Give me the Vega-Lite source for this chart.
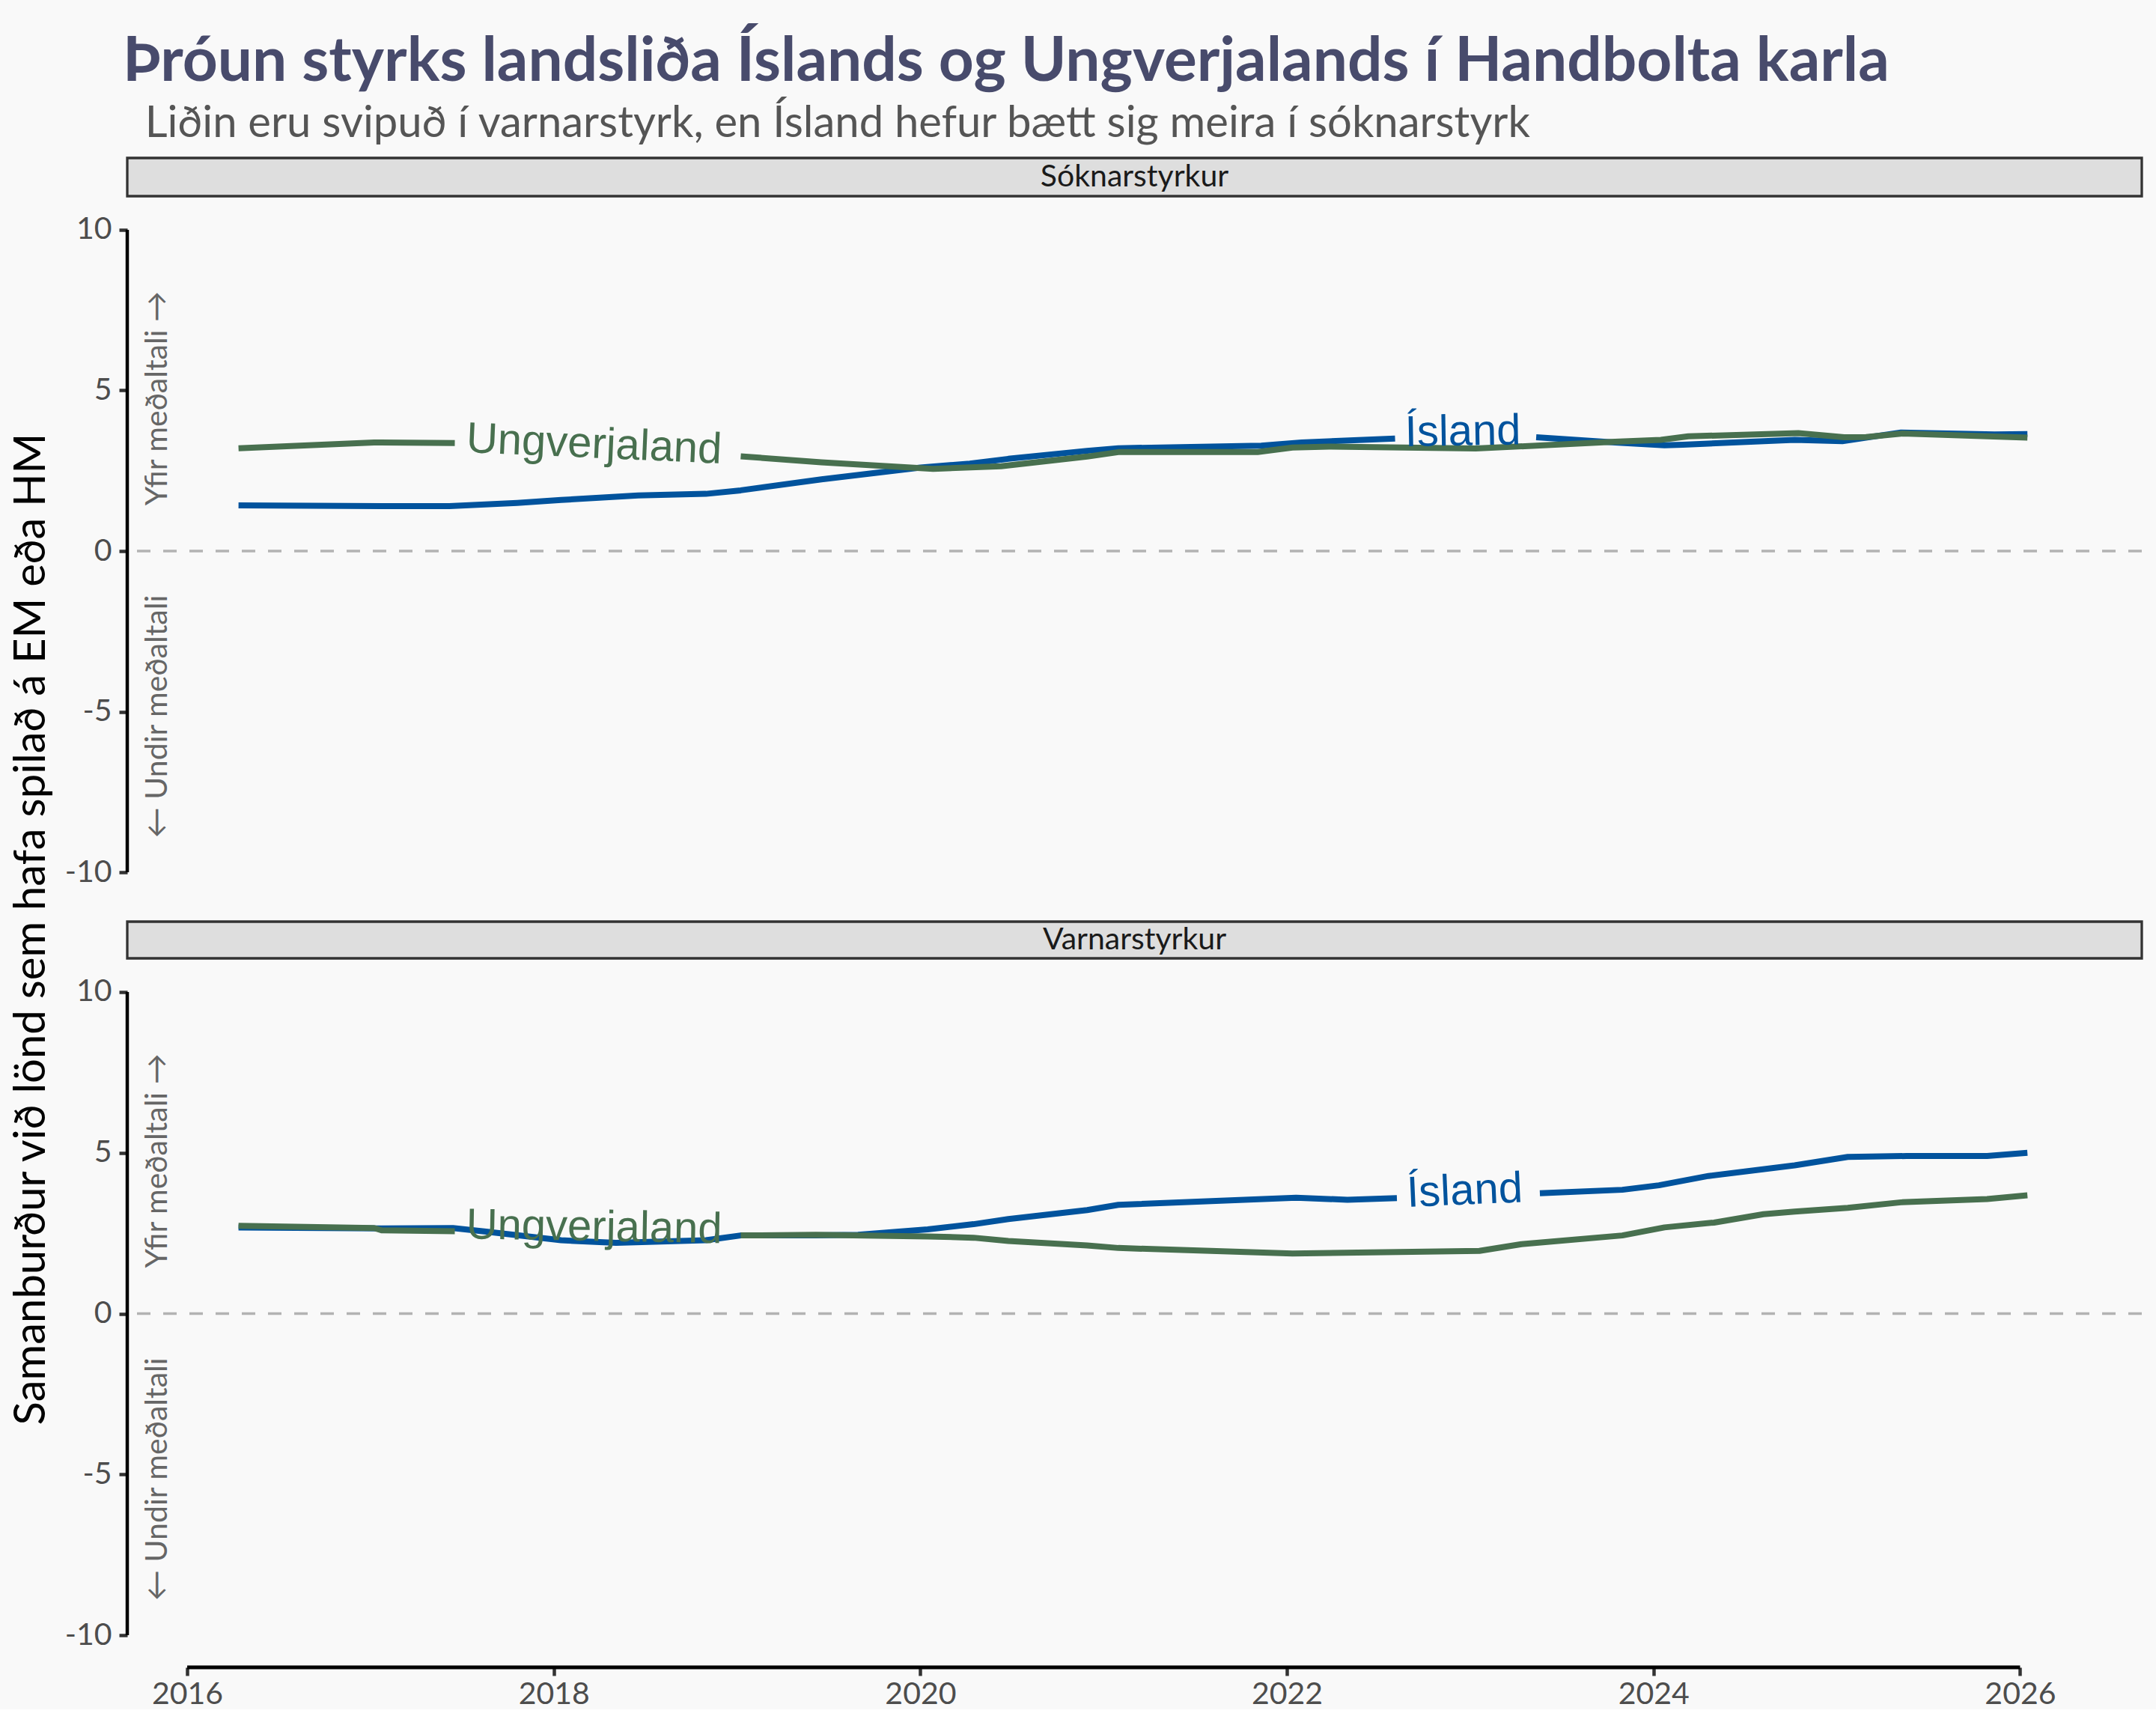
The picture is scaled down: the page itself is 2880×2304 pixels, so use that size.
{
  "$schema": "https://vega.github.io/schema/vega-lite/v6.json",
  "background": "#f9f9f9",
  "padding": {"left": 0, "top": 42, "right": 21, "bottom": 0},
  "title": {
    "text": "Þróun styrks landsliða Íslands og Ungverjalands í Handbolta karla",
    "subtitle": "\u200b\u00a0\u00a0Liðin eru svipuð í varnarstyrk, en Ísland hefur bætt sig meira í sóknarstyrk",
    "anchor": "start", "dx": 164, "offset": 13,
    "font": "Lato", "fontSize": 82, "fontWeight": "bold", "color": "#484b6c",
    "subtitleFont": "Lato", "subtitleFontSize": 58, "subtitleColor": "#555555", "subtitlePadding": 12
  },
  "datasets": {
    "lines": [
      {"panel": "S", "country": "Ísland", "seg": 1, "year": 2016.28, "value": 1.42},
      {"panel": "S", "country": "Ísland", "seg": 1, "year": 2017.06, "value": 1.40},
      {"panel": "S", "country": "Ísland", "seg": 1, "year": 2017.43, "value": 1.40},
      {"panel": "S", "country": "Ísland", "seg": 1, "year": 2017.80, "value": 1.50},
      {"panel": "S", "country": "Ísland", "seg": 1, "year": 2018.04, "value": 1.59},
      {"panel": "S", "country": "Ísland", "seg": 1, "year": 2018.46, "value": 1.73},
      {"panel": "S", "country": "Ísland", "seg": 1, "year": 2018.83, "value": 1.78},
      {"panel": "S", "country": "Ísland", "seg": 1, "year": 2019.02, "value": 1.89},
      {"panel": "S", "country": "Ísland", "seg": 1, "year": 2019.46, "value": 2.23},
      {"panel": "S", "country": "Ísland", "seg": 1, "year": 2020.00, "value": 2.60},
      {"panel": "S", "country": "Ísland", "seg": 1, "year": 2020.27, "value": 2.72},
      {"panel": "S", "country": "Ísland", "seg": 1, "year": 2020.48, "value": 2.87},
      {"panel": "S", "country": "Ísland", "seg": 1, "year": 2020.91, "value": 3.12},
      {"panel": "S", "country": "Ísland", "seg": 1, "year": 2021.08, "value": 3.20},
      {"panel": "S", "country": "Ísland", "seg": 1, "year": 2021.86, "value": 3.28},
      {"panel": "S", "country": "Ísland", "seg": 1, "year": 2022.08, "value": 3.38},
      {"panel": "S", "country": "Ísland", "seg": 1, "year": 2022.59, "value": 3.50},
      {"panel": "S", "country": "Ísland", "seg": 2, "year": 2023.36, "value": 3.54},
      {"panel": "S", "country": "Ísland", "seg": 2, "year": 2023.79, "value": 3.38},
      {"panel": "S", "country": "Ísland", "seg": 2, "year": 2024.06, "value": 3.29},
      {"panel": "S", "country": "Ísland", "seg": 2, "year": 2024.16, "value": 3.31},
      {"panel": "S", "country": "Ísland", "seg": 2, "year": 2024.77, "value": 3.46},
      {"panel": "S", "country": "Ísland", "seg": 2, "year": 2025.03, "value": 3.42},
      {"panel": "S", "country": "Ísland", "seg": 2, "year": 2025.35, "value": 3.69},
      {"panel": "S", "country": "Ísland", "seg": 2, "year": 2025.86, "value": 3.63},
      {"panel": "S", "country": "Ísland", "seg": 2, "year": 2026.04, "value": 3.64},
      {"panel": "S", "country": "Ungverjaland", "seg": 1, "year": 2016.28, "value": 3.20},
      {"panel": "S", "country": "Ungverjaland", "seg": 1, "year": 2017.02, "value": 3.38},
      {"panel": "S", "country": "Ungverjaland", "seg": 1, "year": 2017.46, "value": 3.36},
      {"panel": "S", "country": "Ungverjaland", "seg": 2, "year": 2019.02, "value": 2.95},
      {"panel": "S", "country": "Ungverjaland", "seg": 2, "year": 2019.46, "value": 2.76},
      {"panel": "S", "country": "Ungverjaland", "seg": 2, "year": 2020.07, "value": 2.56},
      {"panel": "S", "country": "Ungverjaland", "seg": 2, "year": 2020.44, "value": 2.64},
      {"panel": "S", "country": "Ungverjaland", "seg": 2, "year": 2020.91, "value": 2.94},
      {"panel": "S", "country": "Ungverjaland", "seg": 2, "year": 2021.08, "value": 3.08},
      {"panel": "S", "country": "Ungverjaland", "seg": 2, "year": 2021.84, "value": 3.08},
      {"panel": "S", "country": "Ungverjaland", "seg": 2, "year": 2022.03, "value": 3.22},
      {"panel": "S", "country": "Ungverjaland", "seg": 2, "year": 2022.23, "value": 3.25},
      {"panel": "S", "country": "Ungverjaland", "seg": 2, "year": 2023.03, "value": 3.19},
      {"panel": "S", "country": "Ungverjaland", "seg": 2, "year": 2023.79, "value": 3.40},
      {"panel": "S", "country": "Ungverjaland", "seg": 2, "year": 2024.04, "value": 3.46},
      {"panel": "S", "country": "Ungverjaland", "seg": 2, "year": 2024.19, "value": 3.57},
      {"panel": "S", "country": "Ungverjaland", "seg": 2, "year": 2024.79, "value": 3.67},
      {"panel": "S", "country": "Ungverjaland", "seg": 2, "year": 2025.04, "value": 3.54},
      {"panel": "S", "country": "Ungverjaland", "seg": 2, "year": 2025.16, "value": 3.55},
      {"panel": "S", "country": "Ungverjaland", "seg": 2, "year": 2025.36, "value": 3.66},
      {"panel": "S", "country": "Ungverjaland", "seg": 2, "year": 2026.04, "value": 3.53},
      {"panel": "V", "country": "Ísland", "seg": 1, "year": 2016.28, "value": 2.68},
      {"panel": "V", "country": "Ísland", "seg": 1, "year": 2017.06, "value": 2.65},
      {"panel": "V", "country": "Ísland", "seg": 1, "year": 2017.45, "value": 2.66},
      {"panel": "V", "country": "Ísland", "seg": 1, "year": 2017.63, "value": 2.55},
      {"panel": "V", "country": "Ísland", "seg": 1, "year": 2018.04, "value": 2.28},
      {"panel": "V", "country": "Ísland", "seg": 1, "year": 2018.34, "value": 2.20},
      {"panel": "V", "country": "Ísland", "seg": 1, "year": 2018.83, "value": 2.28},
      {"panel": "V", "country": "Ísland", "seg": 1, "year": 2019.02, "value": 2.43},
      {"panel": "V", "country": "Ísland", "seg": 1, "year": 2019.43, "value": 2.43},
      {"panel": "V", "country": "Ísland", "seg": 1, "year": 2019.66, "value": 2.45},
      {"panel": "V", "country": "Ísland", "seg": 1, "year": 2020.04, "value": 2.62},
      {"panel": "V", "country": "Ísland", "seg": 1, "year": 2020.29, "value": 2.78},
      {"panel": "V", "country": "Ísland", "seg": 1, "year": 2020.48, "value": 2.94},
      {"panel": "V", "country": "Ísland", "seg": 1, "year": 2020.91, "value": 3.22},
      {"panel": "V", "country": "Ísland", "seg": 1, "year": 2021.08, "value": 3.38},
      {"panel": "V", "country": "Ísland", "seg": 1, "year": 2022.05, "value": 3.60},
      {"panel": "V", "country": "Ísland", "seg": 1, "year": 2022.33, "value": 3.54},
      {"panel": "V", "country": "Ísland", "seg": 1, "year": 2022.60, "value": 3.59},
      {"panel": "V", "country": "Ísland", "seg": 2, "year": 2023.38, "value": 3.74},
      {"panel": "V", "country": "Ísland", "seg": 2, "year": 2023.83, "value": 3.85},
      {"panel": "V", "country": "Ísland", "seg": 2, "year": 2024.03, "value": 3.99},
      {"panel": "V", "country": "Ísland", "seg": 2, "year": 2024.30, "value": 4.28},
      {"panel": "V", "country": "Ísland", "seg": 2, "year": 2024.77, "value": 4.61},
      {"panel": "V", "country": "Ísland", "seg": 2, "year": 2025.06, "value": 4.87},
      {"panel": "V", "country": "Ísland", "seg": 2, "year": 2025.38, "value": 4.90},
      {"panel": "V", "country": "Ísland", "seg": 2, "year": 2025.82, "value": 4.90},
      {"panel": "V", "country": "Ísland", "seg": 2, "year": 2026.04, "value": 5.00},
      {"panel": "V", "country": "Ungverjaland", "seg": 1, "year": 2016.28, "value": 2.73},
      {"panel": "V", "country": "Ungverjaland", "seg": 1, "year": 2017.02, "value": 2.66},
      {"panel": "V", "country": "Ungverjaland", "seg": 1, "year": 2017.06, "value": 2.59},
      {"panel": "V", "country": "Ungverjaland", "seg": 1, "year": 2017.46, "value": 2.56},
      {"panel": "V", "country": "Ungverjaland", "seg": 2, "year": 2019.02, "value": 2.43},
      {"panel": "V", "country": "Ungverjaland", "seg": 2, "year": 2019.43, "value": 2.45},
      {"panel": "V", "country": "Ungverjaland", "seg": 2, "year": 2020.04, "value": 2.40},
      {"panel": "V", "country": "Ungverjaland", "seg": 2, "year": 2020.29, "value": 2.36},
      {"panel": "V", "country": "Ungverjaland", "seg": 2, "year": 2020.48, "value": 2.26},
      {"panel": "V", "country": "Ungverjaland", "seg": 2, "year": 2020.91, "value": 2.12},
      {"panel": "V", "country": "Ungverjaland", "seg": 2, "year": 2021.08, "value": 2.04},
      {"panel": "V", "country": "Ungverjaland", "seg": 2, "year": 2022.03, "value": 1.87},
      {"panel": "V", "country": "Ungverjaland", "seg": 2, "year": 2023.05, "value": 1.95},
      {"panel": "V", "country": "Ungverjaland", "seg": 2, "year": 2023.28, "value": 2.16},
      {"panel": "V", "country": "Ungverjaland", "seg": 2, "year": 2023.83, "value": 2.43},
      {"panel": "V", "country": "Ungverjaland", "seg": 2, "year": 2024.06, "value": 2.68},
      {"panel": "V", "country": "Ungverjaland", "seg": 2, "year": 2024.33, "value": 2.83},
      {"panel": "V", "country": "Ungverjaland", "seg": 2, "year": 2024.60, "value": 3.09},
      {"panel": "V", "country": "Ungverjaland", "seg": 2, "year": 2024.77, "value": 3.17},
      {"panel": "V", "country": "Ungverjaland", "seg": 2, "year": 2025.06, "value": 3.29},
      {"panel": "V", "country": "Ungverjaland", "seg": 2, "year": 2025.35, "value": 3.46},
      {"panel": "V", "country": "Ungverjaland", "seg": 2, "year": 2025.82, "value": 3.56},
      {"panel": "V", "country": "Ungverjaland", "seg": 2, "year": 2026.04, "value": 3.68}
    ],
    "labels": [
      {"panel": "S", "country": "Ísland", "year": 2022.96, "value": 3.69},
      {"panel": "S", "country": "Ungverjaland", "year": 2018.22, "value": 3.30},
      {"panel": "V", "country": "Ísland", "year": 2022.97, "value": 3.79},
      {"panel": "V", "country": "Ungverjaland", "year": 2018.22, "value": 2.66}
    ],
    "notes": [
      {"year": 2015.84, "value": 4.75, "text": "Yfir meðaltali →"},
      {"year": 2015.84, "value": -5.15, "text": "← Undir meðaltali"}
    ]
  },
  "spacing": 0,
  "hconcat": [
    {
      "width": 86, "height": 2060,
      "data": {"values": [{"t": "Samanburður við lönd sem hafa spilað á EM eða HM"}]},
      "mark": {"type": "text", "angle": 270, "font": "Lato", "fontSize": 58, "color": "#000000", "align": "center", "baseline": "middle"},
      "encoding": {"text": {"field": "t"}}
    },
    {
      "spacing": 21,
      "vconcat": [
        {
          "spacing": 0,
          "vconcat": [
            {
              "width": 2691, "height": 51,
              "view": {"fill": "#dedede", "stroke": "#333333", "strokeWidth": 3.3},
              "data": {"values": [{"t": "Sóknarstyrkur"}]},
              "mark": {"type": "text", "font": "Lato", "fontSize": 41, "color": "#1a1a1a", "align": "center", "baseline": "middle"},
              "encoding": {"text": {"field": "t"}}
            },
            {
              "width": 2691, "height": 944,
              "layer": [
                {
                  "data": {"values": [{}]},
                  "mark": {"type": "rule", "color": "#b3b3b3", "strokeWidth": 3.5, "strokeDash": [18, 17]},
                  "encoding": {"y": {"datum": 0, "type": "quantitative", "scale": {"domain": [-11, 11], "nice": false, "zero": false}, "axis": {"values": [-10, -5, 0, 5, 10]}, "title": null}}
                },
                {
                  "data": {"values": [{}]},
                  "mark": {"type": "rule", "color": "#000000", "strokeWidth": 4.5},
                  "encoding": {
                    "x": {"datum": 2015.673, "type": "quantitative", "scale": {"domain": [2015.673, 2026.664], "nice": false, "zero": false}, "axis": null},
                    "y": {"datum": -10, "type": "quantitative", "axis": {"values": [-10, -5, 0, 5, 10]}, "title": null},
                    "y2": {"datum": 10}
                  }
                },
                {
                  "data": {"name": "lines"},
                  "transform": [{"filter": "datum.panel === 'S' && datum.country === 'Ísland'"}],
                  "mark": {"type": "line", "color": "#01539d", "strokeWidth": 8, "strokeJoin": "round"},
                  "encoding": {
                    "x": {"field": "year", "type": "quantitative", "axis": null},
                    "y": {"field": "value", "type": "quantitative", "axis": {"values": [-10, -5, 0, 5, 10]}, "title": null},
                    "detail": {"field": "seg"}
                  }
                },
                {
                  "data": {"name": "lines"},
                  "transform": [{"filter": "datum.panel === 'S' && datum.country === 'Ungverjaland'"}],
                  "mark": {"type": "line", "color": "#48704f", "strokeWidth": 8, "strokeJoin": "round"},
                  "encoding": {
                    "x": {"field": "year", "type": "quantitative", "axis": null},
                    "y": {"field": "value", "type": "quantitative", "axis": {"values": [-10, -5, 0, 5, 10]}, "title": null},
                    "detail": {"field": "seg"}
                  }
                },
                {
                  "data": {"name": "labels"},
                  "transform": [{"filter": "datum.panel === 'S' && datum.country === 'Ísland'"}],
                  "mark": {"type": "text", "font": "Liberation Sans", "fontSize": 58, "color": "#01539d", "angle": -1, "align": "center", "baseline": "middle"},
                  "encoding": {
                    "x": {"field": "year", "type": "quantitative", "axis": null},
                    "y": {"field": "value", "type": "quantitative", "axis": {"values": [-10, -5, 0, 5, 10]}, "title": null},
                    "text": {"field": "country"}
                  }
                },
                {
                  "data": {"name": "labels"},
                  "transform": [{"filter": "datum.panel === 'S' && datum.country === 'Ungverjaland'"}],
                  "mark": {"type": "text", "font": "Liberation Sans", "fontSize": 58, "color": "#48704f", "angle": 2.5, "align": "center", "baseline": "middle"},
                  "encoding": {
                    "x": {"field": "year", "type": "quantitative", "axis": null},
                    "y": {"field": "value", "type": "quantitative", "axis": {"values": [-10, -5, 0, 5, 10]}, "title": null},
                    "text": {"field": "country"}
                  }
                },
                {
                  "data": {"name": "notes"},
                  "mark": {"type": "text", "font": "Lato", "fontSize": 41, "color": "#666666", "angle": 270, "align": "center", "baseline": "middle"},
                  "encoding": {
                    "x": {"field": "year", "type": "quantitative", "axis": null},
                    "y": {"field": "value", "type": "quantitative", "axis": {"values": [-10, -5, 0, 5, 10]}, "title": null},
                    "text": {"field": "text"}
                  }
                }
              ]
            }
          ]
        },
        {
          "spacing": 0,
          "vconcat": [
            {
              "width": 2691, "height": 49,
              "view": {"fill": "#dedede", "stroke": "#333333", "strokeWidth": 3.3},
              "data": {"values": [{"t": "Varnarstyrkur"}]},
              "mark": {"type": "text", "font": "Lato", "fontSize": 41, "color": "#1a1a1a", "align": "center", "baseline": "middle"},
              "encoding": {"text": {"field": "t"}}
            },
            {
              "width": 2691, "height": 945,
              "layer": [
                {
                  "data": {"values": [{}]},
                  "mark": {"type": "rule", "color": "#b3b3b3", "strokeWidth": 3.5, "strokeDash": [18, 17]},
                  "encoding": {"y": {"datum": 0, "type": "quantitative", "scale": {"domain": [-11, 11], "nice": false, "zero": false}, "axis": {"values": [-10, -5, 0, 5, 10]}, "title": null}}
                },
                {
                  "data": {"values": [{}]},
                  "mark": {"type": "rule", "color": "#000000", "strokeWidth": 4.5},
                  "encoding": {
                    "x": {"datum": 2015.673, "type": "quantitative", "scale": {"domain": [2015.673, 2026.664], "nice": false, "zero": false}, "axis": {"values": [2016, 2018, 2020, 2022, 2024, 2026], "format": "d"}, "title": null},
                    "y": {"datum": -10, "type": "quantitative", "axis": {"values": [-10, -5, 0, 5, 10]}, "title": null},
                    "y2": {"datum": 10}
                  }
                },
                {
                  "data": {"values": [{}]},
                  "mark": {"type": "rule", "color": "#000000", "strokeWidth": 5},
                  "encoding": {
                    "x": {"datum": 2016, "type": "quantitative", "axis": {"values": [2016, 2018, 2020, 2022, 2024, 2026], "format": "d"}, "title": null},
                    "x2": {"datum": 2026},
                    "y": {"datum": -11, "type": "quantitative", "axis": {"values": [-10, -5, 0, 5, 10]}, "title": null}
                  }
                },
                {
                  "data": {"name": "lines"},
                  "transform": [{"filter": "datum.panel === 'V' && datum.country === 'Ísland'"}],
                  "mark": {"type": "line", "color": "#01539d", "strokeWidth": 8, "strokeJoin": "round"},
                  "encoding": {
                    "x": {"field": "year", "type": "quantitative", "axis": {"values": [2016, 2018, 2020, 2022, 2024, 2026], "format": "d"}, "title": null},
                    "y": {"field": "value", "type": "quantitative", "axis": {"values": [-10, -5, 0, 5, 10]}, "title": null},
                    "detail": {"field": "seg"}
                  }
                },
                {
                  "data": {"name": "lines"},
                  "transform": [{"filter": "datum.panel === 'V' && datum.country === 'Ungverjaland'"}],
                  "mark": {"type": "line", "color": "#48704f", "strokeWidth": 8, "strokeJoin": "round"},
                  "encoding": {
                    "x": {"field": "year", "type": "quantitative", "axis": {"values": [2016, 2018, 2020, 2022, 2024, 2026], "format": "d"}, "title": null},
                    "y": {"field": "value", "type": "quantitative", "axis": {"values": [-10, -5, 0, 5, 10]}, "title": null},
                    "detail": {"field": "seg"}
                  }
                },
                {
                  "data": {"name": "labels"},
                  "transform": [{"filter": "datum.panel === 'V' && datum.country === 'Ísland'"}],
                  "mark": {"type": "text", "font": "Liberation Sans", "fontSize": 58, "color": "#01539d", "angle": -2.5, "align": "center", "baseline": "middle"},
                  "encoding": {
                    "x": {"field": "year", "type": "quantitative", "axis": {"values": [2016, 2018, 2020, 2022, 2024, 2026], "format": "d"}, "title": null},
                    "y": {"field": "value", "type": "quantitative", "axis": {"values": [-10, -5, 0, 5, 10]}, "title": null},
                    "text": {"field": "country"}
                  }
                },
                {
                  "data": {"name": "labels"},
                  "transform": [{"filter": "datum.panel === 'V' && datum.country === 'Ungverjaland'"}],
                  "mark": {"type": "text", "font": "Liberation Sans", "fontSize": 58, "color": "#48704f", "angle": 1, "align": "center", "baseline": "middle"},
                  "encoding": {
                    "x": {"field": "year", "type": "quantitative", "axis": {"values": [2016, 2018, 2020, 2022, 2024, 2026], "format": "d"}, "title": null},
                    "y": {"field": "value", "type": "quantitative", "axis": {"values": [-10, -5, 0, 5, 10]}, "title": null},
                    "text": {"field": "country"}
                  }
                },
                {
                  "data": {"name": "notes"},
                  "mark": {"type": "text", "font": "Lato", "fontSize": 41, "color": "#666666", "angle": 270, "align": "center", "baseline": "middle"},
                  "encoding": {
                    "x": {"field": "year", "type": "quantitative", "axis": {"values": [2016, 2018, 2020, 2022, 2024, 2026], "format": "d"}, "title": null},
                    "y": {"field": "value", "type": "quantitative", "axis": {"values": [-10, -5, 0, 5, 10]}, "title": null},
                    "text": {"field": "text"}
                  }
                }
              ]
            }
          ]
        }
      ]
    }
  ],
  "config": {
    "background": "#f9f9f9",
    "view": {"stroke": null},
    "axis": {
      "domain": false, "grid": false,
      "labelFont": "Lato", "labelFontSize": 41, "labelColor": "#4d4d4d",
      "tickColor": "#333333", "tickWidth": 4.5, "tickSize": 11, "labelPadding": 10
    },
    "axisX": {"labelPadding": 5, "labelFlush": false, "labelOverlap": false},
    "axisY": {"labelOverlap": false, "labelExpr": "'' + datum.value", "minExtent": 82, "maxExtent": 82}
  }
}
